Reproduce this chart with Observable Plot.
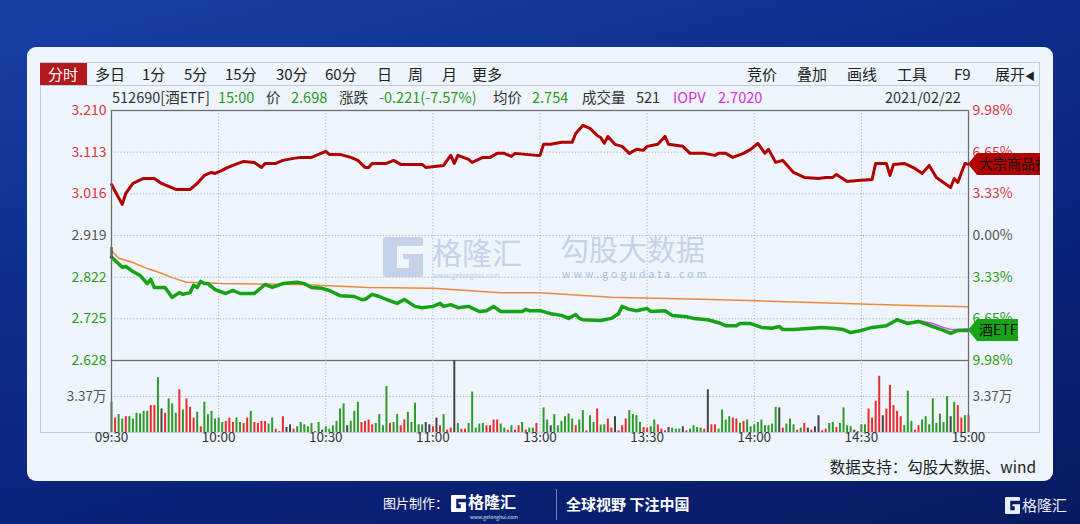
<!DOCTYPE html>
<html><head><meta charset="utf-8">
<script src="https://cdn.jsdelivr.net/npm/d3@7"></script>
<script src="https://cdn.jsdelivr.net/npm/@observablehq/plot@0.6"></script>
<style>
html,body{margin:0;padding:0;width:1080px;height:524px;overflow:hidden;}
body{position:relative;font-family:"Noto Sans CJK SC","Noto Sans",sans-serif;
 background:linear-gradient(165deg,#1a40a8 0%,#0d2e8e 35%,#0a2278 70%,#081a62 100%);}
.abs{position:absolute;white-space:nowrap;line-height:1;}
#card{position:absolute;left:27px;top:47px;width:1026px;height:434px;background:#eef5fd;border-radius:9px;}
#panel{position:absolute;left:40px;top:62px;width:998px;height:369px;border:1px solid #c3cbd6;}
#tbline{position:absolute;left:40px;top:85px;width:999px;height:1px;background:#c3cbd6;}
#tab{position:absolute;left:40px;top:63px;width:47px;height:22px;background:#b3191c;}
.tb{font-size:15px;color:#222;top:66px;}
.inf{font-size:14.5px;top:90px;color:#333;}
.g{color:#2a9a1f}.m{color:#d42ee0}
#price{position:absolute;left:30px;top:100px;}
#vol{position:absolute;left:30px;top:360px;}
.wm{color:#c4d2ea;}
</style></head><body>
<div id="card"></div>
<div id="panel"></div>
<div id="tbline"></div>
<div id="tab"></div>
<div class="abs tb" style="left:48px;color:#fff">分时</div>
<div class="abs tb" style="left:95px">多日</div>
<div class="abs tb" style="left:142px">1分</div>
<div class="abs tb" style="left:184px">5分</div>
<div class="abs tb" style="left:225px">15分</div>
<div class="abs tb" style="left:276px">30分</div>
<div class="abs tb" style="left:325px">60分</div>
<div class="abs tb" style="left:377px">日</div>
<div class="abs tb" style="left:408px">周</div>
<div class="abs tb" style="left:442px">月</div>
<div class="abs tb" style="left:472px">更多</div>
<div class="abs tb" style="left:747px">竞价</div>
<div class="abs tb" style="left:797px">叠加</div>
<div class="abs tb" style="left:847px">画线</div>
<div class="abs tb" style="left:897px">工具</div>
<div class="abs tb" style="left:954px">F9</div>
<div class="abs tb" style="left:995px">展开<span style="font-size:10px">◀</span></div>

<div class="abs inf" style="left:112px">512690[酒ETF]</div>
<div class="abs inf g" style="left:218px">15:00</div>
<div class="abs inf" style="left:266px">价</div>
<div class="abs inf g" style="left:291px">2.698</div>
<div class="abs inf" style="left:339px">涨跌</div>
<div class="abs inf g" style="left:379px">-0.221(-7.57%)</div>
<div class="abs inf" style="left:493px">均价</div>
<div class="abs inf g" style="left:532px">2.754</div>
<div class="abs inf" style="left:582px">成交量</div>
<div class="abs inf" style="left:636px">521</div>
<div class="abs inf m" style="left:673px">IOPV</div>
<div class="abs inf m" style="left:718px">2.7020</div>
<div class="abs inf" style="left:885px">2021/02/22</div>

<!-- watermark -->
<svg class="abs" style="left:383px;top:237px" width="40" height="40" viewBox="0 0 40 40">
 <path d="M3,0H37a3,3 0 0 1 3,3V9H14V31H26V22H20V17H40V37a3,3 0 0 1 -3,3H3a3,3 0 0 1 -3,-3V3a3,3 0 0 1 3,-3Z" fill="#c4d2ea"/>
</svg>
<div class="abs wm" style="left:432px;top:236px;font-size:30px;">格隆汇</div>
<div class="abs wm" style="left:433px;top:272px;font-size:7px;">www.gelonghui.com</div>
<div class="abs wm" style="left:560px;top:234px;font-size:29px;">勾股大数据</div>
<div class="abs" style="left:562px;top:269px;font-size:10.5px;letter-spacing:3.1px;color:#a9bddc;">www.gogudata.com</div>

<div id="price"></div>
<div id="vol"></div>

<div class="abs" style="right:44px;top:459px;font-size:15.5px;color:#222">数据支持：勾股大数据、wind</div>

<div class="abs" style="left:383px;top:496px;font-size:13px;color:#fff">图片制作：</div>
<svg class="abs" style="left:451px;top:495px" width="15" height="17" viewBox="0 0 40 40" preserveAspectRatio="none">
 <path d="M3,0H37a3,3 0 0 1 3,3V9H14V31H26V22H20V17H40V37a3,3 0 0 1 -3,3H3a3,3 0 0 1 -3,-3V3a3,3 0 0 1 3,-3Z" fill="#fff"/>
</svg>
<div class="abs" style="left:468px;top:493px;font-size:16px;font-weight:700;color:#fff">格隆汇</div>
<div class="abs" style="left:470px;top:514px;font-size:5px;color:#dfe6f5">www.gelonghui.com</div>
<div class="abs" style="left:556px;top:489px;width:1px;height:31px;background:#7183b8"></div>
<div class="abs" style="left:566px;top:496px;font-size:15px;font-weight:700;color:#fff">全球视野 下注中国</div>
<svg class="abs" style="left:1005px;top:497px" width="15" height="17" viewBox="0 0 40 40" preserveAspectRatio="none">
 <path d="M3,0H37a3,3 0 0 1 3,3V9H14V31H26V22H20V17H40V37a3,3 0 0 1 -3,3H3a3,3 0 0 1 -3,-3V3a3,3 0 0 1 3,-3Z" fill="#e8edf8"/>
</svg>
<div class="abs" style="left:1022px;top:497px;font-size:15px;color:#e8edf8">格隆汇</div>

<script>
// ---------- data ----------
const prevClose = 2.919;
const priceTicks = [3.210, 3.113, 3.016, 2.919, 2.822, 2.725, 2.628];
const pctTicks = [9.98, 6.65, 3.33, 0, -3.33, -6.65, -9.98];
const timeTicks = ["09:30","10:00","10:30","11:00","13:00","13:30","14:00","14:30","15:00"];
const gridTimes = ["10:00","10:30","11:00","13:00","13:30","14:00","14:30"];
const volTickValue = 3.37;
const volMax = 6.74;
const openTick = [2.891, 2.866];

const etfTimes = ["09:30","09:31","09:33","09:34","09:36","09:38","09:40","09:41","09:42","09:45","09:47","09:49","09:50","09:52","09:53","09:54","09:55","09:56","09:57","09:59","10:02","10:04","10:06","10:10","10:11","10:13","10:15","10:18","10:22","10:24","10:26","10:29","10:31","10:34","10:38","10:40","10:41","10:43","10:45","10:47","10:50","10:52","10:55","10:57","11:00","11:02","11:03","11:05","11:07","11:10","11:13","11:15","11:17","11:19","11:25","11:26","11:27","11:29","11:30","13:03","13:06","13:08","13:10","13:11","13:12","13:17","13:20","13:22","13:23","13:25","13:27","13:30","13:31","13:35","13:37","13:41","13:43","13:47","13:50","13:52","13:55","13:56","13:59","14:02","14:05","14:07","14:08","14:11","14:16","14:19","14:22","14:25","14:27","14:30","14:33","14:37","14:40","14:43","14:46","14:50","14:53","14:55","14:57","15:00"];
const etfPrices = [2.868,2.861,2.845,2.847,2.835,2.826,2.807,2.817,2.798,2.798,2.775,2.786,2.782,2.786,2.803,2.798,2.812,2.807,2.807,2.793,2.784,2.791,2.784,2.784,2.791,2.805,2.798,2.807,2.810,2.807,2.798,2.796,2.791,2.779,2.777,2.770,2.770,2.782,2.777,2.770,2.761,2.770,2.754,2.751,2.754,2.761,2.754,2.758,2.751,2.754,2.742,2.744,2.754,2.742,2.742,2.747,2.744,2.744,2.744,2.737,2.733,2.726,2.735,2.726,2.723,2.721,2.726,2.737,2.754,2.747,2.744,2.749,2.742,2.744,2.733,2.730,2.726,2.723,2.716,2.709,2.709,2.714,2.714,2.705,2.703,2.707,2.700,2.700,2.703,2.705,2.703,2.700,2.693,2.698,2.705,2.709,2.723,2.714,2.719,2.707,2.698,2.691,2.698,2.698];

const avgTimes = ["09:30","09:32","09:36","09:40","09:44","09:47","09:51","10:01","10:23","10:42","11:00","11:19","11:30","13:20","13:48","14:16","14:44","15:00"];
const avgPrices = [2.884,2.866,2.856,2.842,2.831,2.821,2.810,2.807,2.805,2.798,2.796,2.786,2.786,2.775,2.770,2.763,2.756,2.753];

const iopvTimes = ["14:40","14:44","14:46","14:50","14:53","14:55","14:57","15:00"];
const iopvValues = [2.723,2.716,2.721,2.714,2.705,2.700,2.700,2.702];

const commodityTimes = ["09:30","09:33","09:34","09:36","09:39","09:42","09:44","09:46","09:48","09:52","09:54","09:56","09:58","09:59","10:01","10:02","10:04","10:07","10:10","10:12","10:13","10:16","10:18","10:21","10:23","10:26","10:28","10:30","10:31","10:34","10:37","10:39","10:41","10:42","10:43","10:47","10:49","10:51","10:57","10:58","11:03","11:05","11:06","11:07","11:10","11:11","11:14","11:16","11:18","11:20","11:22","11:23","11:29","11:30","13:01","13:03","13:06","13:09","13:10","13:12","13:14","13:16","13:17","13:18","13:19","13:21","13:23","13:25","13:27","13:29","13:30","13:33","13:35","13:36","13:40","13:42","13:46","13:49","13:50","13:52","13:54","13:57","13:59","14:01","14:03","14:04","14:06","14:08","14:10","14:11","14:14","14:18","14:20","14:22","14:23","14:26","14:29","14:33","14:34","14:37","14:38","14:39","14:42","14:45","14:47","14:49","14:51","14:53","14:55","14:56","14:57","14:59","15:00"];
const commodityPct = [4.07,2.48,3.35,4.15,4.55,4.55,4.15,3.91,3.67,3.67,4.15,4.79,5.03,4.95,5.19,5.35,5.59,5.91,5.83,5.43,5.75,5.75,5.99,6.15,6.23,6.23,6.47,6.71,6.47,6.47,6.23,5.99,5.43,5.43,5.75,5.75,5.99,5.67,5.67,5.43,5.59,6.39,5.75,6.39,6.07,5.83,6.23,6.23,6.55,6.55,6.31,6.55,6.39,6.39,7.27,7.27,7.43,7.43,8.14,8.78,8.54,7.98,7.82,7.35,7.90,7.27,7.11,6.55,6.87,6.79,7.11,7.27,7.90,7.27,7.11,6.55,6.55,6.39,6.55,6.55,6.23,6.55,6.87,7.35,6.55,6.87,5.83,5.99,5.35,5.03,4.63,4.55,4.63,4.63,4.87,4.31,4.39,4.47,5.75,5.75,4.79,5.67,5.75,5.35,4.95,5.59,4.63,4.23,3.83,4.55,4.23,5.75,5.67];

// volume in 万 per minute; direction letters: r = up, g = down, k = unchanged
const volAM = [2.83,1.35,1.67,1.26,1.48,1.48,1.26,1.80,1.73,1.98, 1.98,2.52,2.52,5.13,2.20,1.80,3.15,2.68,1.80,4.00, 2.11,3.15,2.36,1.35,1.89,0.54,2.83,1.67,1.98,1.26, 1.35,0.94,1.04,1.35,0.94,1.35,0.94,0.85,1.35,1.98, 0.94,0.85,1.04,1.04,0.79,1.35,0.31,0.09,1.48,0.47, 0.72,0.31,0.54,0.94,0.72,0.54,0.85,0.09,0.94,0.22, 0.54,0.31,0.63,1.04,2.20,2.68,0.63,1.04,1.98,2.83, 0.94,1.04,1.17,0.72,0.85,1.67,0.63,4.31,0.85,0.94, 1.67,0.63,1.17,1.89,0.94,2.74,0.72,0.72,0.94,0.72, 0.54,1.35,0.63,1.67,0.22,0.41,9.00,0.85,0.31,0.31, 0.85,3.78,0.41,0.79,0.85,0.63,0.63,1.17,1.17,0.79, 0.41,0.22,0.63,0.22,0.63,0.94,0.22,0.41,0.41,0.85];
const volAMDir = "grggrggggg"+"grrgkrgggr"+"grrrgrgggg"+"ggrrrggrrg"+"rrrrggrrrk"+"krgggggrgk"+"ggggggkggg"+"rrrrggggrg"+"grrgggggkk"+"rkrgrrkgrr"+"gggggrrrrg"+"grgrrgrggr";
const volPM = [2.30,1.17,0.63,1.67,0.63,1.04,1.48,1.73,1.26,0.63, 1.17,2.05,0.16,1.57,0.94,2.20,0.69,0.72,1.26,0.41, 1.48,0.16,0.63,1.26,2.05,1.67,1.57,0.94,0.47,0.41, 0.54,1.17,0.72,0.31,0.16,0.47,0.41,0.31,0.31,0.54, 0.16,0.31,0.63,0.47,0.41,0.31,4.00,0.72,0.72,0.31, 2.11,1.17,1.48,1.35,1.26,0.85,1.04,1.17,0.54,0.72, 0.94,1.17,0.63,0.63,0.79,2.36,2.30,0.41,0.79,1.26, 0.72,0.22,0.41,0.85,0.41,0.22,0.54,1.57,0.16,0.31, 0.85,0.94,0.47,0.85,2.30,0.63,0.54,0.22,0.09,0.72, 0.72,2.20,1.35,2.93,5.26,1.57,2.20,4.41,2.52,1.98, 1.48,0.63,3.87,1.04,0.22,0.63,1.17,1.48,0.72,3.15, 0.85,1.73,0.94,3.37,1.48,2.83,2.52,1.35,1.57,1.57];
const volPMDir = "ggkggggggr"+"ggrggrggrr"+"krrrggggrr"+"ggrrrkgggk"+"rggggrkrrg"+"gggrrgrggg"+"ggggggkrgg"+"grgrkrkkrr"+"ggrggggkrg"+"grrrrkrrrr"+"rgggrrgggg"+"ggggkgrrgr";

// ---------- helpers ----------
const tIndex = s => { const [h, m] = s.split(":").map(Number); const v = h * 60 + m; return v <= 690 ? v - 570 : v - 780 + 120; };
const toPrice = p => prevClose * (1 + p / 100);
const RED = "#d9363a", GREEN = "#2f9a22", GREY = "#555";
const tickColor = v => v > prevClose + 1e-9 ? RED : v < prevClose - 1e-9 ? GREEN : GREY;
const pctColor = p => p > 0 ? RED : p < 0 ? GREEN : GREY;
const dirColor = {r: "#ef2a2e", g: "#2e9a2a", k: "#444"};
const font = '"Noto Sans CJK SC","Noto Sans",sans-serif';

const etf = etfTimes.map((t, i) => ({x: tIndex(t), y: etfPrices[i]}));
const avg = avgTimes.map((t, i) => ({x: tIndex(t), y: avgPrices[i]}));
const iopv = iopvTimes.map((t, i) => ({x: tIndex(t), y: iopvValues[i]}));
const com = commodityTimes.map((t, i) => ({x: tIndex(t), y: toPrice(commodityPct[i])}));
const vols = [
  ...volAM.map((v, i) => ({x: tIndex("09:30") + i, v, c: dirColor[volAMDir[i]]})),
  ...volPM.map((v, i) => ({x: tIndex("13:01") + i, v, c: dirColor[volPMDir[i]]}))
];
const dotted = {stroke: "#a9b2be", strokeDasharray: "1.2,2", strokeWidth: 1};

const priceChart = Plot.plot({
  width: 1010, height: 270,
  marginLeft: 81, marginRight: 72, marginTop: 10, marginBottom: 10,
  style: {background: "transparent", fontFamily: font, fontSize: "14px", overflow: "hidden"},
  x: {domain: [0, 240], axis: null},
  y: {domain: [2.628, 3.210], axis: null},
  marks: [
    Plot.ruleY(priceTicks.slice(1, -1), dotted),
    Plot.ruleX(gridTimes.map(tIndex), dotted),
    Plot.line(avg, {x: "x", y: "y", stroke: "#f0883c", strokeWidth: 1.5}),
    Plot.line(com, {x: "x", y: "y", stroke: "#b10000", strokeWidth: 3, strokeLinejoin: "round"}),
    Plot.line(iopv, {x: "x", y: "y", stroke: "#d24bff", strokeWidth: 1.5}),
    Plot.line(etf, {x: "x", y: "y", stroke: "#15a315", strokeWidth: 3.5, strokeLinejoin: "round"}),
    Plot.ruleX([0], {y1: openTick[0], y2: openTick[1], stroke: "#111", strokeWidth: 2}),
    Plot.frame({stroke: "#6d6d6d", strokeWidth: 1.3}),
    Plot.text(priceTicks, {y: d => d, frameAnchor: "left", dx: -5, textAnchor: "end", text: d => d.toFixed(3), fill: tickColor}),
    Plot.text(pctTicks, {y: toPrice, frameAnchor: "right", dx: 4, textAnchor: "start", text: d => Math.abs(d).toFixed(2) + "%", fill: pctColor})
  ]
});
document.getElementById("price").appendChild(priceChart);

// series tags at right edge, positioned with the chart's own scales
{
  const ys = priceChart.scale("y"), xs = priceChart.scale("x");
  const svg = d3.select(priceChart);
  const x0 = xs.apply(240);
  const tag = (value, color, label, w) => {
    const y = ys.apply(value);
    svg.append("path").attr("d", `M${x0},${y}L${x0 + 9},${y - 11}H${x0 + w}V${y + 11}H${x0 + 9}Z`).attr("fill", color);
    svg.append("text").attr("x", x0 + 11).attr("y", y).attr("dy", "0.36em").attr("text-anchor", "start")
      .attr("font-size", 14).attr("fill", "#111").attr("font-family", font).text(label);
  };
  tag(com[com.length - 1].y, "#b10000", "大宗商品指数", 90);
  tag(etf[etf.length - 1].y, "#18a318", "酒ETF", 50);
}

const volChart = Plot.plot({
  width: 1010, height: 92,
  marginLeft: 81, marginRight: 72, marginTop: 0, marginBottom: 20,
  style: {background: "transparent", fontFamily: font, fontSize: "13.5px", overflow: "visible"},
  x: {domain: [0, 240], axis: null},
  y: {domain: [0, volMax], axis: null},
  marks: [
    Plot.ruleY([volTickValue], dotted),
    Plot.ruleX(gridTimes.map(tIndex), dotted),
    Plot.ruleX(vols, {x: "x", y1: 0, y2: d => Math.min(d.v, volMax), stroke: "c", strokeWidth: 2}),
    Plot.ruleX([0, 240], {stroke: "#6d6d6d", strokeWidth: 1.3}),
    Plot.text([volTickValue], {y: d => d, frameAnchor: "left", dx: -5, textAnchor: "end", text: d => d + "万", fill: GREY}),
    Plot.text([volTickValue], {y: d => d, frameAnchor: "right", dx: 4, textAnchor: "start", text: d => d + "万", fill: GREY}),
    Plot.text(timeTicks, {x: tIndex, frameAnchor: "bottom", dy: 9, text: d => d, fill: "#333"})
  ]
});
document.getElementById("vol").appendChild(volChart);
</script>
</body></html>
